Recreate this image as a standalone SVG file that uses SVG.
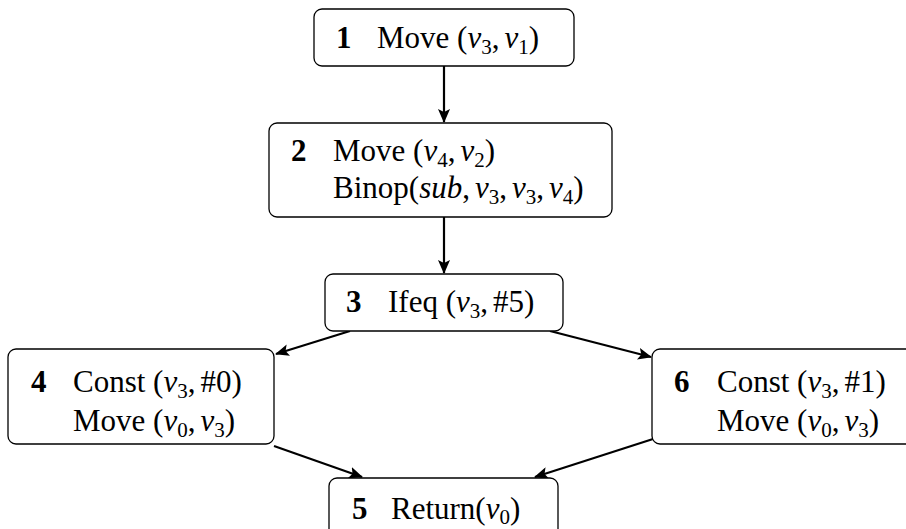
<svg xmlns="http://www.w3.org/2000/svg" width="906" height="529" viewBox="0 0 906 529">
  <style>
    .box { fill: #ffffff; stroke: #000000; stroke-width: 1.3; }
    .edge { fill: none; stroke: #000000; stroke-width: 2.2; }
    text { font-family: "Liberation Serif", "DejaVu Serif", serif; font-size: 31px; fill: #000000; }
    .num { font-weight: bold; }
    .i { font-style: italic; }
    .s { font-size: 21px; }
  </style>
  <defs>
    <marker id="arrow" viewBox="0 0 14 12" refX="13" refY="6" markerWidth="14" markerHeight="12" markerUnits="userSpaceOnUse" orient="auto">
      <path d="M0,0 L14,6 L0,12 L3,6 z" fill="#000000"/>
    </marker>
  </defs>

  <rect width="906" height="529" fill="#ffffff"/>

  <!-- connectors -->
  <g id="edges">
    <line class="edge" x1="444" y1="66" x2="444" y2="122" marker-end="url(#arrow)"/>
    <line class="edge" x1="444" y1="217" x2="444" y2="273" marker-end="url(#arrow)"/>
    <line class="edge" x1="350" y1="331" x2="276" y2="354" marker-end="url(#arrow)"/>
    <line class="edge" x1="550" y1="331" x2="651" y2="357" marker-end="url(#arrow)"/>
    <line class="edge" x1="274" y1="446" x2="362" y2="477" marker-end="url(#arrow)"/>
    <line class="edge" x1="653" y1="439" x2="535" y2="477" marker-end="url(#arrow)"/>
  </g>

  <!-- block 1 -->
  <g id="node1">
    <rect class="box" x="314" y="9" width="260" height="57" rx="8"/>
    <text class="num" x="336" y="48">1</text>
    <text x="377" y="48">Move (<tspan class="i">v</tspan><tspan class="s" dy="6">3</tspan><tspan dy="-6">,</tspan><tspan class="i" dx="5">v</tspan><tspan class="s" dy="6">1</tspan><tspan dy="-6">)</tspan></text>
  </g>

  <!-- block 2 -->
  <g id="node2">
    <rect class="box" x="269" y="123" width="343" height="94" rx="8"/>
    <text class="num" x="291" y="161">2</text>
    <text x="333" y="161">Move (<tspan class="i">v</tspan><tspan class="s" dy="6">4</tspan><tspan dy="-6">,</tspan><tspan class="i" dx="5">v</tspan><tspan class="s" dy="6">2</tspan><tspan dy="-6">)</tspan></text>
    <text x="333" y="198">Binop(<tspan class="i">sub</tspan>,<tspan class="i" dx="5">v</tspan><tspan class="s" dy="6">3</tspan><tspan dy="-6">,</tspan><tspan class="i" dx="5">v</tspan><tspan class="s" dy="6">3</tspan><tspan dy="-6">,</tspan><tspan class="i" dx="5">v</tspan><tspan class="s" dy="6">4</tspan><tspan dy="-6">)</tspan></text>
  </g>

  <!-- block 3 -->
  <g id="node3">
    <rect class="box" x="325" y="274" width="238" height="57" rx="8"/>
    <text class="num" x="346" y="312">3</text>
    <text x="388" y="312">Ifeq (<tspan class="i">v</tspan><tspan class="s" dy="6">3</tspan><tspan dy="-6">,</tspan><tspan dx="5">#5)</tspan></text>
  </g>

  <!-- block 4 -->
  <g id="node4">
    <rect class="box" x="8" y="349" width="266" height="95" rx="8"/>
    <text class="num" x="31" y="392">4</text>
    <text x="73" y="392">Const (<tspan class="i">v</tspan><tspan class="s" dy="6">3</tspan><tspan dy="-6">,</tspan><tspan dx="5">#0)</tspan></text>
    <text x="73" y="431">Move (<tspan class="i">v</tspan><tspan class="s" dy="6">0</tspan><tspan dy="-6">,</tspan><tspan class="i" dx="5">v</tspan><tspan class="s" dy="6">3</tspan><tspan dy="-6">)</tspan></text>
  </g>

  <!-- block 6 -->
  <g id="node6">
    <rect class="box" x="652" y="349" width="270" height="95" rx="8"/>
    <text class="num" x="674" y="392">6</text>
    <text x="717" y="392">Const (<tspan class="i">v</tspan><tspan class="s" dy="6">3</tspan><tspan dy="-6">,</tspan><tspan dx="5">#1)</tspan></text>
    <text x="717" y="431">Move (<tspan class="i">v</tspan><tspan class="s" dy="6">0</tspan><tspan dy="-6">,</tspan><tspan class="i" dx="5">v</tspan><tspan class="s" dy="6">3</tspan><tspan dy="-6">)</tspan></text>
  </g>

  <!-- block 5 -->
  <g id="node5">
    <rect class="box" x="329" y="478" width="229" height="70" rx="8"/>
    <text class="num" x="352" y="519">5</text>
    <text x="391" y="519">Return(<tspan class="i">v</tspan><tspan class="s" dy="5">0</tspan><tspan dy="-5">)</tspan></text>
  </g>
</svg>
